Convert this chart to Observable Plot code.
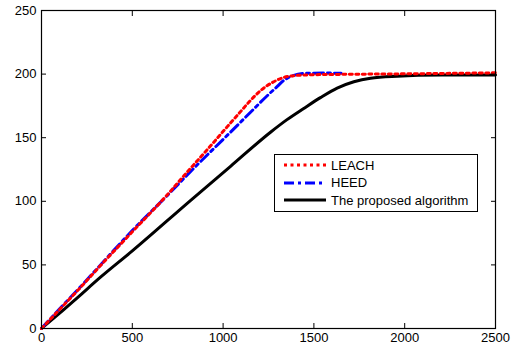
<!DOCTYPE html>
<html>
<head>
<meta charset="utf-8">
<script src="https://cdn.jsdelivr.net/npm/d3@7"></script>
<script src="https://cdn.jsdelivr.net/npm/@observablehq/plot@0.6"></script>
<style>
  html, body { margin: 0; padding: 0; background: #fff; }
  #wrap { position: relative; width: 513px; height: 347px; font-family: "Liberation Sans", Arial, sans-serif; }
  #legend { position: absolute; left: 274px; top: 154px; width: 202px; height: 56px; border: 1.5px solid #000; background: #fff; font-size: 13px; }
  .row { position: absolute; left: 9px; height: 16px; display: flex; align-items: center; }
  .row svg { margin-right: 5px; }
</style>
</head>
<body>
<div id="wrap"></div>
<script>
const xTicks = [0, 500, 1000, 1500, 2000, 2500];
const yTicks = [0, 50, 100, 150, 200, 250];

const leachX = [0, 100, 200, 325, 500, 692, 784, 949, 1022, 1096, 1133, 1206, 1279, 1316, 1408, 1500, 1600, 1800, 2000, 2200, 2500];
const leachY = [0, 15, 30, 49.5, 76, 105, 120, 146.5, 158.5, 170.5, 176.5, 187, 194, 196.5, 199, 199.5, 199.7, 200, 200.2, 200.5, 201];

const heedX = [0, 100, 200, 325, 500, 692, 839, 1041, 1151, 1243, 1300, 1334, 1389, 1463, 1550, 1650];
const heedY = [0, 15.5, 30.5, 50, 77, 104.5, 126, 154.4, 170, 183, 190.5, 195, 199, 200.7, 200.8, 200.7];

const propX = [0, 100, 200, 325, 500, 820, 1041, 1261, 1350, 1444, 1536, 1628, 1720, 1812, 1959, 2206, 2500];
const propY = [0, 12, 24.5, 40.3, 61, 100.6, 127.5, 154.3, 164, 173, 181.5, 189, 194, 196.8, 198.3, 199.2, 199.3];

const seriesNames = ["LEACH", "HEED", "The proposed algorithm"];

const toRows = (xs, ys) => xs.map((x, i) => ({x, y: ys[i]}));
const leach = toRows(leachX, leachY);
const heed = toRows(heedX, heedY);
const prop = toRows(propX, propY);

const fmt = d => String(d);

const chart = Plot.plot({
  width: 513,
  height: 347,
  marginLeft: 41,
  marginRight: 18,
  marginTop: 10,
  marginBottom: 19,
  style: {fontFamily: "'Liberation Sans', Arial, sans-serif", fontSize: "13px", background: "#fff", color: "#000"},
  x: {domain: [0, 2500]},
  y: {domain: [0, 250]},
  marks: [
    Plot.line(prop, {x: "x", y: "y", stroke: "#000", strokeWidth: 3, curve: "monotone-x"}),
    Plot.line(heed, {x: "x", y: "y", stroke: "#0000ff", strokeWidth: 3, strokeDasharray: "10,4,3,4", curve: "monotone-x"}),
    Plot.line(leach, {x: "x", y: "y", stroke: "#ff0000", strokeWidth: 3, strokeDasharray: "3,3.5", curve: "monotone-x"}),
    Plot.frame({stroke: "#000", strokeWidth: 1.2}),
    Plot.axisX({ticks: xTicks, anchor: "bottom", tickSize: -5, tickPadding: 9, tickFormat: fmt, label: null, fontSize: 13}),
    Plot.axisX({ticks: xTicks, anchor: "top", tickSize: -5, tickFormat: () => "", label: null}),
    Plot.axisY({ticks: yTicks, anchor: "left", tickSize: -5, tickPadding: 10, tickFormat: fmt, label: null, fontSize: 13}),
    Plot.axisY({ticks: yTicks, anchor: "right", tickSize: -5, tickFormat: () => "", label: null})
  ]
});
const wrap = document.getElementById("wrap");
wrap.appendChild(chart);

const legend = document.createElement("div");
legend.id = "legend";
const styles = [
  {stroke: "#ff0000", dash: "3,3.5"},
  {stroke: "#0000ff", dash: "10,4,3,4"},
  {stroke: "#000", dash: null}
];
seriesNames.forEach((name, i) => {
  const row = document.createElement("div");
  row.className = "row";
  row.style.top = (2 + i * 17.5) + "px";
  const s = styles[i];
  row.innerHTML = `<svg width="42" height="6"><line x1="0" y1="3" x2="42" y2="3" stroke="${s.stroke}" stroke-width="3" ${s.dash ? `stroke-dasharray="${s.dash}"` : ""}/></svg><span>${name}</span>`;
  legend.appendChild(row);
});
wrap.appendChild(legend);
</script>
</body>
</html>
